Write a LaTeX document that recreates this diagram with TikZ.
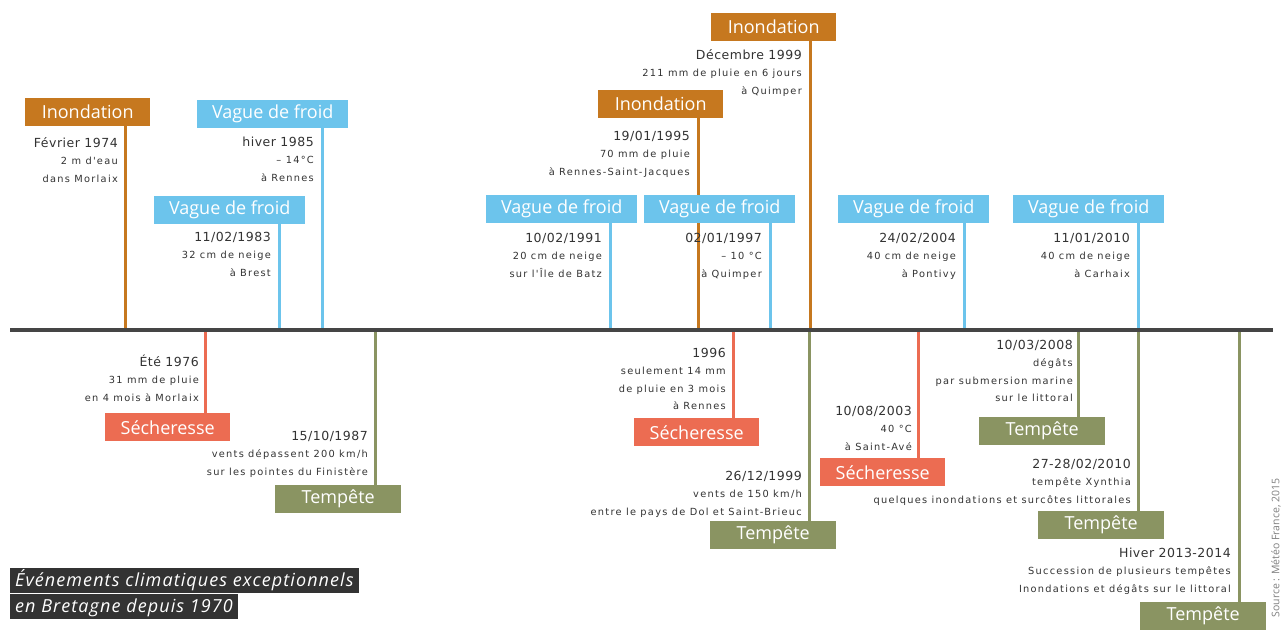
\documentclass[tikz,border=0pt]{standalone}
\usepackage{fontspec}
\newfontfamily\dinsmall[LetterSpace=13]{DejaVu Sans}
\newfontfamily\dinbig[LetterSpace=4]{DejaVu Sans}
\newfontfamily\lblfont{Open Sans}
\newfontfamily\ttlfont[LetterSpace=6]{Open Sans Italic}
\definecolor{cInond}{HTML}{C6781F}
\definecolor{cFroid}{HTML}{6CC4EC}
\definecolor{cSech}{HTML}{EC6C52}
\definecolor{cTemp}{HTML}{8A9462}
\definecolor{cText}{HTML}{333333}
\definecolor{cLine}{HTML}{454545}
\definecolor{cTitle}{HTML}{333333}
\newcommand\evt[2]{\begin{tabular}[t]{@{}r@{}}{\dinbig\fontsize{12.5}{17.5}\selectfont #1}\\#2\end{tabular}}
\pgfdeclarelayer{bg}
\pgfsetlayers{bg,main}
\tikzset{
  lbl/.style={anchor=north west, inner sep=0pt, minimum height=28pt, text=white,
              font=\lblfont\fontsize{18}{20}\selectfont},
  inond/.style={lbl, fill=cInond, minimum width=125pt},
  froid/.style={lbl, fill=cFroid, minimum width=151pt},
  sech/.style={lbl, fill=cSech, minimum width=125pt},
  temp/.style={lbl, fill=cTemp, minimum width=126pt},
  desc/.style={anchor=base east, inner sep=0pt, text=cText,
               font=\dinsmall\fontsize{9.8}{17.5}\selectfont},
  stem/.style={line width=3pt},
  ttl/.style={anchor=north west, fill=cTitle, text=white, inner xsep=5pt, inner ysep=3pt,
              text height=15pt, text depth=3.5pt,
              font=\ttlfont\fontsize{18}{20}\selectfont},
}
\begin{document}
\begin{tikzpicture}[x=1pt,y=-1pt]
\begin{pgfonlayer}{bg}
\fill[white] (0,0) rectangle (1285,630);
\end{pgfonlayer}
\useasboundingbox (0,0) rectangle (1285,630);

% timeline coordinates
\coordinate (tlL) at (10,330);
\coordinate (tlR) at (1273,330);
\coordinate (t74) at (125,330);
\coordinate (t85) at (322,330);
\coordinate (t83) at (279,330);
\coordinate (t91) at (610,330);
\coordinate (t95) at (698,330);
\coordinate (t97) at (770,330);
\coordinate (t99) at (810,330);
\coordinate (t04) at (964,330);
\coordinate (t10) at (1138,330);
\coordinate (t76) at (205,330);
\coordinate (t87) at (375,330);
\coordinate (t96) at (733,330);
\coordinate (t99b) at (809,330);
\coordinate (t03) at (918,330);
\coordinate (t08) at (1078,330);
\coordinate (t10b) at (1138,330);
\coordinate (t13) at (1239,330);

% ---------- above the timeline ----------
\node[inond] (b74) at (25,98) {Inondation};
\node[desc] (d74) at (118,147) {\evt{Février 1974}{2 m d'eau\\dans Morlaix}};

\node[froid] (b85) at (197,100) {Vague de froid};
\node[desc] (d85) at (314,146) {\evt{hiver 1985}{– 14°C\\à Rennes}};

\node[froid] (b83) at (154,196) {Vague de froid};
\node[desc] (d83) at (271,241) {\evt{11/02/1983}{32 cm de neige\\à Brest}};

\node[froid] (b91) at (486,195) {Vague de froid};
\node[desc] (d91) at (602,242) {\evt{10/02/1991}{20 cm de neige\\sur l'Île de Batz}};

\node[inond] (b95) at (598,90) {Inondation};
\node[desc] (d95) at (690,140) {\evt{19/01/1995}{70 mm de pluie\\à Rennes-Saint-Jacques}};

\node[froid] (b97) at (644,195) {Vague de froid};
\node[desc] (d97) at (762,242) {\evt{02/01/1997}{– 10 °C\\à Quimper}};

\node[inond] (b99) at (711,13) {Inondation};
\node[desc] (d99) at (802,59) {\evt{Décembre 1999}{211 mm de pluie en 6 jours\\à Quimper}};

\node[froid] (b04) at (838,195) {Vague de froid};
\node[desc] (d04) at (956,242) {\evt{24/02/2004}{40 cm de neige\\à Pontivy}};

\node[froid] (b10) at (1013,195) {Vague de froid};
\node[desc] (d10) at (1130,242) {\evt{11/01/2010}{40 cm de neige\\à Carhaix}};

% ---------- below the timeline ----------
\node[sech] (b76) at (105,413) {Sécheresse};
\node[desc] (d76) at (199,366) {\evt{Été 1976}{31 mm de pluie\\en 4 mois à Morlaix}};

\node[temp] (b87) at (275,485) {Tempête};
\node[desc] (d87) at (368,440) {\evt{15/10/1987}{vents dépassent 200 km/h\\sur les pointes du Finistère}};

\node[sech] (b96) at (634,418) {Sécheresse};
\node[desc] (d96) at (726,357) {\evt{1996}{seulement 14 mm\\de pluie en 3 mois\\à Rennes}};

\node[temp] (b99b) at (710,521) {Tempête};
\node[desc] (d99b) at (802,480) {\evt{26/12/1999}{vents de 150 km/h\\entre le pays de Dol et Saint-Brieuc}};

\node[sech] (b03) at (820,458) {Sécheresse};
\node[desc] (d03) at (912,415) {\evt{10/08/2003}{40 °C\\à Saint-Avé}};

\node[temp] (b08) at (979,417) {Tempête};
\node[desc] (d08) at (1073,349) {\evt{10/03/2008}{dégâts\\par submersion marine\\sur le littoral}};

\node[temp] (b10b) at (1038,511) {Tempête};
\node[desc] (d10b) at (1131,468) {\evt{27-28/02/2010}{tempête Xynthia\\quelques inondations et surcôtes littorales}};

\node[temp] (b13) at (1140,602) {Tempête};
\node[desc] (d13) at (1231,557) {\evt{Hiver 2013-2014}{Succession de plusieurs tempêtes\\Inondations et dégâts sur le littoral}};

% ---------- stems (behind the boxes) ----------
\begin{pgfonlayer}{bg}
\draw[stem, cInond] (b74.south -| t74) -- (t74);
\draw[stem, cFroid] (b85.south -| t85) -- (t85);
\draw[stem, cFroid] (b83.south -| t83) -- (t83);
\draw[stem, cFroid] (b91.south -| t91) -- (t91);
\draw[stem, cInond] (b95.south -| t95) -- (t95);
\draw[stem, cFroid] (b97.south -| t97) -- (t97);
\draw[stem, cInond] (b99.south -| t99) -- (t99);
\draw[stem, cFroid] (b04.south -| t04) -- (t04);
\draw[stem, cFroid] (b10.south -| t10) -- (t10);
\draw[stem, cSech] (t76) -- (b76.north -| t76);
\draw[stem, cTemp] (t87) -- (b87.north -| t87);
\draw[stem, cSech] (t96) -- (b96.north -| t96);
\draw[stem, cTemp] (t99b) -- (b99b.north -| t99b);
\draw[stem, cSech] (t03) -- (b03.north -| t03);
\draw[stem, cTemp] (t08) -- (b08.north -| t08);
\draw[stem, cTemp] (t10b) -- (b10b.north -| t10b);
\draw[stem, cTemp] (t13) -- (b13.north -| t13);
\end{pgfonlayer}

% timeline
\draw[line width=4pt, cLine] (tlL) -- (tlR);

% title
\node[ttl] (ti1) at (10,568) {Événements climatiques exceptionnels};
\node[ttl] (ti2) at (10,594) {en Bretagne depuis 1970};

% source
\node[rotate=90, text=gray, font=\lblfont\fontsize{10.5}{12}\selectfont] (src) at (1276,548) {Source : Météo France, 2015};
\end{tikzpicture}
\end{document}
